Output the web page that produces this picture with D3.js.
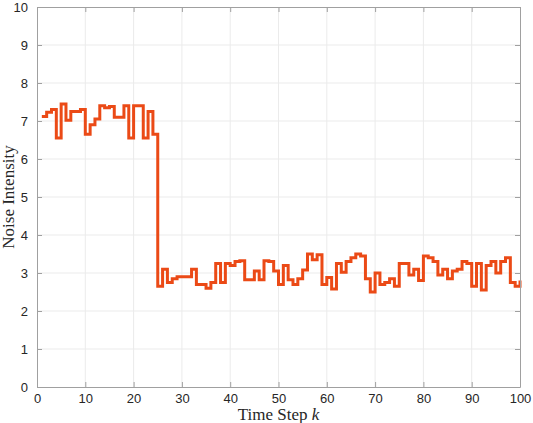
<!DOCTYPE html>
<html>
<head>
<meta charset="utf-8">
<script src="https://cdn.jsdelivr.net/npm/d3@7"></script>
<style>
  body { margin: 0; background: #fff; }
  svg { display: block; }
</style>
</head>
<body>
<svg width="533" height="423"></svg>
<script>
// noise intensity per time step k = 1..100
const noise = [
  7.12, 7.23, 7.30, 6.55, 7.45, 7.02, 7.25, 7.25, 7.30, 6.65,
  6.90, 7.05, 7.40, 7.35, 7.38, 7.10, 7.10, 7.40, 6.55, 7.40,
  7.40, 6.55, 7.25, 6.65, 2.65, 3.10, 2.75, 2.85, 2.90, 2.90,
  2.90, 3.10, 2.70, 2.70, 2.60, 2.75, 3.25, 2.75, 3.25, 3.20,
  3.30, 3.32, 2.82, 2.82, 3.05, 2.82, 3.32, 3.30, 3.05, 2.70,
  3.20, 2.82, 2.70, 2.85, 3.08, 3.50, 3.35, 3.48, 2.70, 2.88,
  2.58, 3.25, 3.02, 3.30, 3.40, 3.50, 3.45, 2.85, 2.50, 3.00,
  2.70, 2.75, 2.85, 2.65, 3.25, 3.25, 2.95, 3.10, 2.80, 3.45,
  3.40, 3.30, 2.95, 3.10, 2.85, 3.05, 3.10, 3.30, 3.25, 2.65,
  3.25, 2.55, 3.20, 3.30, 3.00, 3.30, 3.40, 2.75, 2.65, 2.80
];
const steps = noise.map((_, i) => i + 1);

const xTicks = [0, 10, 20, 30, 40, 50, 60, 70, 80, 90, 100];
const yTicks = [0, 1, 2, 3, 4, 5, 6, 7, 8, 9, 10];

// plot box in pixels
const pLeft = 37, pRight = 520, pTop = 7, pBottom = 387;

const svg = d3.select('svg');

const x = d3.scaleLinear().domain([0, 100]).range([pLeft, pRight]);
const y = d3.scaleLinear().domain([0, 10]).range([pBottom, pTop]);

const axisColor = '#a0a0a0';
const textColor = '#262626';

// grid
svg.append('g')
  .selectAll('line')
  .data(xTicks.slice(1, -1))
  .join('line')
  .attr('x1', d => x(d)).attr('x2', d => x(d))
  .attr('y1', pTop).attr('y2', pBottom)
  .attr('stroke', '#ebebeb').attr('stroke-width', 1);

svg.append('g')
  .selectAll('line')
  .data(yTicks.slice(1, -1))
  .join('line')
  .attr('x1', pLeft).attr('x2', pRight)
  .attr('y1', d => y(d)).attr('y2', d => y(d))
  .attr('stroke', '#ebebeb').attr('stroke-width', 1);

// stairs line
const line = d3.line()
  .x(d => x(d[0]))
  .y(d => y(d[1]))
  .curve(d3.curveStepAfter);

svg.append('path')
  .datum(steps.map((k, i) => [k, noise[i]]))
  .attr('d', line)
  .attr('fill', 'none')
  .attr('stroke', '#eb4a16')
  .attr('stroke-width', 3);

// axes, ticks pointing inward like matlab
const styleAxis = g => {
  g.select('.domain').attr('stroke', axisColor);
  g.selectAll('.tick line').attr('stroke', axisColor);
  g.selectAll('.tick text')
    .attr('fill', textColor)
    .style('font-family', 'Liberation Sans, Arial, sans-serif')
    .style('font-size', '13px');
};

svg.append('g')
  .attr('transform', `translate(0, ${pBottom})`)
  .call(d3.axisBottom(x).tickValues(xTicks).tickSize(-5).tickPadding(7).tickSizeOuter(0))
  .call(styleAxis);

svg.append('g')
  .attr('transform', `translate(${pLeft}, 0)`)
  .call(d3.axisLeft(y).tickValues(yTicks).tickSize(-5).tickPadding(9).tickSizeOuter(0))
  .call(styleAxis);

svg.append('g')
  .attr('transform', `translate(0, ${pTop})`)
  .call(d3.axisTop(x).tickValues(xTicks).tickSize(-5).tickFormat('').tickSizeOuter(0))
  .call(styleAxis);

svg.append('g')
  .attr('transform', `translate(${pRight}, 0)`)
  .call(d3.axisRight(y).tickValues(yTicks).tickSize(-5).tickFormat('').tickSizeOuter(0))
  .call(styleAxis);

// axis titles
const xt = svg.append('text')
  .attr('x', (pLeft + pRight) / 2)
  .attr('y', 420)
  .attr('text-anchor', 'middle')
  .attr('fill', textColor)
  .style('font-family', 'Liberation Serif, Times New Roman, serif')
  .style('font-size', '17px');
xt.append('tspan').text('Time Step ');
xt.append('tspan').style('font-style', 'italic').text('k');

svg.append('text')
  .attr('transform', `translate(14, ${(pTop + pBottom) / 2}) rotate(-90)`)
  .attr('text-anchor', 'middle')
  .attr('fill', textColor)
  .style('font-family', 'Liberation Serif, Times New Roman, serif')
  .style('font-size', '17px')
  .text('Noise Intensity');
</script>
</body>
</html>
